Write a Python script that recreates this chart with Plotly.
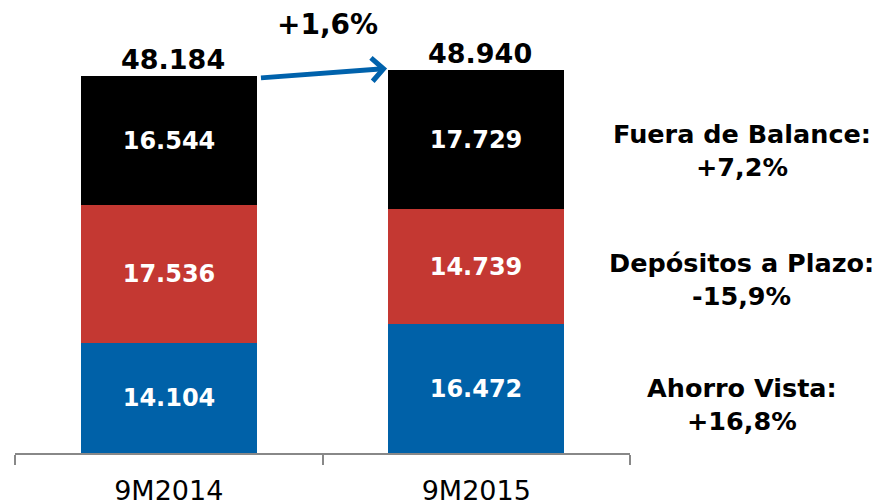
import plotly.graph_objects as go

periodos = ["9M2014", "9M2015"]
ahorro_vista = [14104, 16472]
depositos_plazo = [17536, 14739]
fuera_balance = [16544, 17729]
totales = [48184, 48940]
variacion_total = "+1,6%"
notas = [
    "Fuera de Balance:<br>+7,2%",
    "Depósitos a Plazo:<br>-15,9%",
    "Ahorro Vista:<br>+16,8%",
]

def fmt(v):
    return f"{v:,}".replace(",", ".")

fig = go.Figure()
series = [
    (ahorro_vista, "#0061A8"),
    (depositos_plazo, "#C43832"),
    (fuera_balance, "#000000"),
]
for vals, color in series:
    fig.add_trace(go.Bar(
        x=periodos, y=vals, marker=dict(color=color, line=dict(width=0)),
        text=[fmt(v) for v in vals], textposition="inside", insidetextanchor="middle",
        textfont=dict(family="DejaVu Sans", size=24, color="white", weight="bold"),
        width=0.573, showlegend=False,
    ))

# totales encima de las barras
for p, t in zip(periodos, totales):
    fig.add_annotation(x=p, y=t, text=fmt(t), showarrow=False, yanchor="bottom", yshift=-1, xshift=4,
                       font=dict(family="DejaVu Sans", size=27, color="black", weight="bold"))

# flecha de variacion
fig.add_annotation(x=0.71, y=49150, ax=0.295, ay=47930, xref="x", yref="y", axref="x", ayref="y",
                   text="", showarrow=True, arrowhead=4, arrowsize=0.9, arrowwidth=5,
                   arrowcolor="#0062AC")
fig.add_annotation(x=0.5, y=1.0, xref="x", yref="paper", yanchor="top", yshift=2, xshift=5,
                   text=variacion_total, showarrow=False,
                   font=dict(family="DejaVu Sans", size=28, color="black", weight="bold"))

# notas a la derecha
for nota, py in zip(notas, [0.679, 0.391, 0.110]):
    fig.add_annotation(x=1.182, y=py, xref="paper", yref="paper", text=nota, showarrow=False,
                       xanchor="center", yanchor="middle", align="center",
                       font=dict(family="DejaVu Sans", size=25.5, color="black", weight="bold"))

fig.update_layout(
    barmode="stack", width=882, height=504, margin=dict(l=7, r=260, t=0, b=59),
    plot_bgcolor="white", paper_bgcolor="white", bargap=0,
)
fig.update_xaxes(range=[-0.5, 1.5], showline=True, linecolor="#888888", linewidth=2,
                 ticks="outside", tickson="boundaries", ticklen=10, tickcolor="#888888", tickwidth=2,
                 ticklabelstandoff=13, automargin=False,
                 tickfont=dict(family="DejaVu Sans", size=27, color="black"))
fig.update_yaxes(range=[0, 56876], visible=False)

fig.write_html("out.html")
